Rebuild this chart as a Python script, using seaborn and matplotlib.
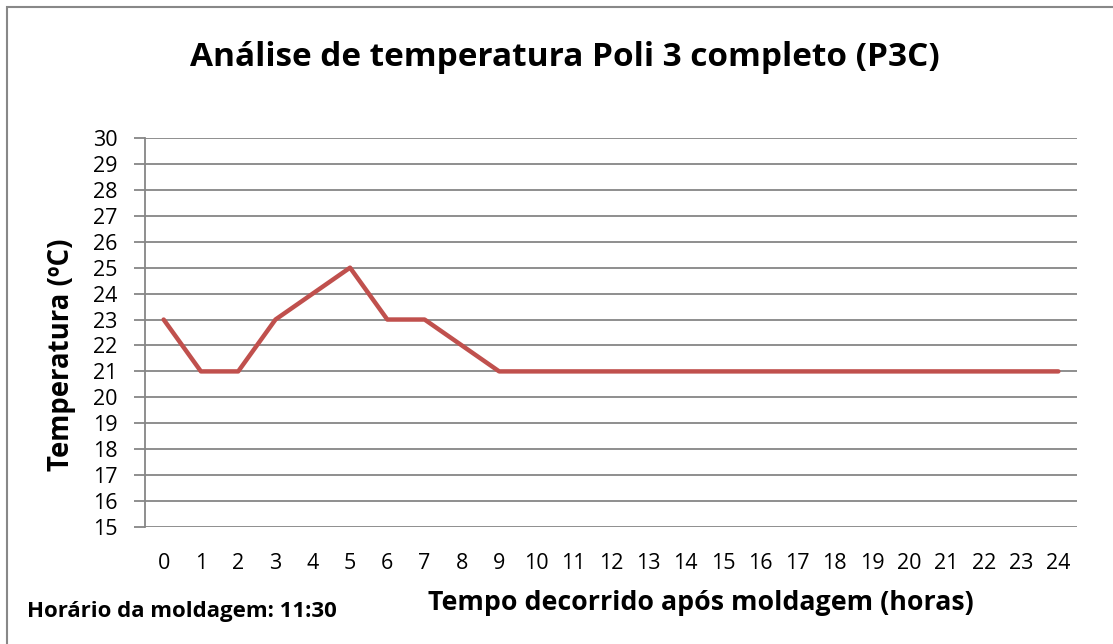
import matplotlib
matplotlib.use("Agg")
import matplotlib.pyplot as plt
import seaborn as sns
import pandas as pd
from matplotlib.patches import Rectangle

hours = list(range(25))
temps = [23, 21, 21, 23, 24, 25, 23, 23, 22, 21, 21, 21, 21, 21, 21, 21, 21, 21, 21, 21, 21, 21, 21, 21, 21]
y_ticks = list(range(15, 31))
title = "Análise de temperatura Poli 3 completo (P3C)"
x_label = "Tempo decorrido após moldagem (horas)"
y_label = "Temperatura (ºC)"
note = "Horário da moldagem: 11:30"

sns.set_theme(style="white")
plt.rcParams['font.family'] = ['Open Sans', 'DejaVu Sans']
plt.rcParams['text.color'] = 'black'

df = pd.DataFrame({"hora": hours, "temp": temps})

fig = plt.figure(figsize=(11.13, 6.44), dpi=100)
ax = fig.add_axes([145/1113, 1-527/644, (1077-145)/1113, (527-138)/644])

grid_c = "#868686"
sns.lineplot(data=df, x="hora", y="temp", ax=ax, color="#C0504D", linewidth=3.2)

ax.set_xlim(-0.5, 24.5)
ax.set_ylim(15, 30)
ax.set_yticks(y_ticks)
ax.set_yticklabels([str(v) for v in y_ticks], fontsize=15.5)
ax.set_xticks(hours)
ax.set_xticklabels([str(h) for h in hours], fontsize=15.5)
for y in y_ticks:
    ax.axhline(y, color=grid_c, linewidth=1.3, zorder=0)
for s in ["top", "right", "bottom"]:
    ax.spines[s].set_visible(False)
ax.spines["left"].set_color(grid_c)
ax.spines["left"].set_linewidth(1.3)
ax.tick_params(axis="y", left=True, length=8, width=1.3, color=grid_c, pad=12, labelcolor="black")
ax.tick_params(axis="x", bottom=False, pad=13, labelcolor="black")
ax.set_xlabel("")
ax.set_ylabel("")

fig.text(565/1113, 1-57/644, title, ha="center", va="center", fontsize=24, fontweight="bold", color="black")
fig.text(701/1113, 1-603/644, x_label, ha="center", va="center", fontsize=19.3, fontweight="bold", color="black")
fig.text(62/1113, 1-355/644, y_label, ha="center", va="center", rotation=90, fontsize=19.8, fontweight="bold", color="black")
fig.text(27/1113, 1-611/644, note, ha="left", va="center", fontsize=16, fontweight="bold", color="black")

fig.patches.append(Rectangle((7/1113, -0.1), 1.2, 1-7/644+0.1, transform=fig.transFigure,
                             fill=False, edgecolor="#888888", linewidth=1.5))

fig.savefig("out.png", dpi=100)
